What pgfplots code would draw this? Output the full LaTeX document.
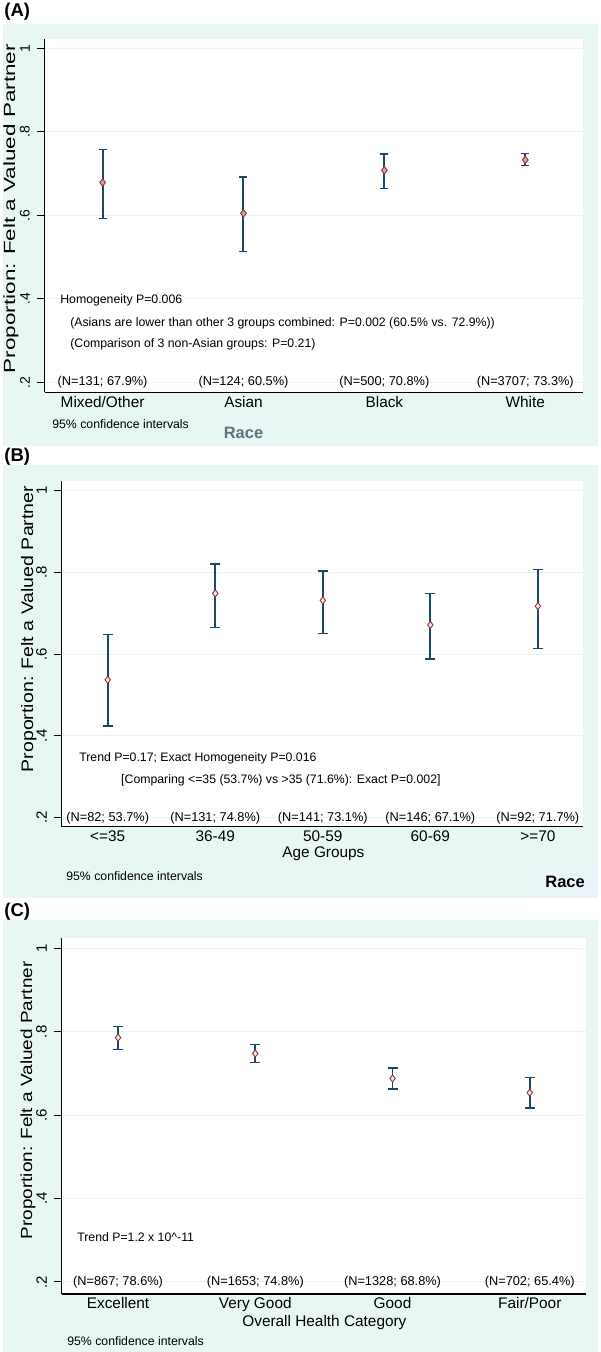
\documentclass[border=0pt]{standalone}
\usepackage{fontspec}
\setmainfont{Liberation Sans}
\usepackage{graphicx}
\usepackage{pgfplots}
\usepackage{pgfplotstable}
\pgfplotsset{compat=1.18}

\definecolor{mint}{RGB}{232,247,243}
\definecolor{gridc}{RGB}{232,244,241}
\definecolor{navy}{RGB}{26,71,111}
\definecolor{maroon}{RGB}{144,53,59}
\definecolor{racegray}{RGB}{100,112,122}
\definecolor{racebox}{RGB}{234,245,250}

\newcommand{\fs}[1]{\fontsize{#1}{#1}\selectfont}

% x, estimate, lower and upper 95% limits
\pgfplotstableread{
x y lo hi
1 0.679 0.593 0.758
2 0.605 0.513 0.692
3 0.708 0.665 0.747
4 0.733 0.719 0.748
}\raceTab

\pgfplotstableread{
x y lo hi
1 0.537 0.424 0.648
2 0.748 0.665 0.820
3 0.731 0.650 0.803
4 0.671 0.588 0.748
5 0.717 0.613 0.807
}\ageTab

\pgfplotstableread{
x y lo hi
1 0.786 0.758 0.812
2 0.748 0.727 0.769
3 0.688 0.663 0.713
4 0.654 0.617 0.690
}\healthTab

\pgfplotsset{
  stata/.style={
    scale only axis,
    axis x line*=bottom, axis y line*=left,
    axis line style={black, line width=1.2pt},
    axis background/.style={fill=white},
    ytick={0.2,0.4,0.6,0.8,1}, yticklabels={.2,.4,.6,.8,1},
    ymajorgrids, grid style={gridc, line width=1pt},
    tick align=outside, major tick length=8pt,
    ytick style={black, line width=1pt},
    xtick style={draw=none},
    yticklabel style={rotate=90, anchor=south, inner ysep=6.8pt, font=\fs{15}},
    xticklabel style={yshift=8pt, font=\fs{15.4}},
    xtick=data,
    clip=false,
  },
  % bar width, cap half-width, marker size, marker fill
  ci/.style n args={4}{only marks, mark=diamond*, mark size=#3,
    mark options={draw=maroon, fill=#4, line width=0.9pt},
    error bars/.cd, y dir=both, y explicit,
    error bar style={navy, line width=#1},
    error mark options={navy, line width=1.3pt, mark size=#2, rotate=90}},
}

\newcommand{\ciplot}[2]{%
  \addplot[ci=#2] table[x=x, y=y,
    y error plus expr=\thisrow{hi}-\thisrow{y},
    y error minus expr=\thisrow{y}-\thisrow{lo}] {#1};}

\begin{document}
\begin{tikzpicture}
\fill[white] (0pt,0pt) rectangle (600pt,1352pt);
\fill[mint] (2pt,907pt) rectangle (598pt,1330pt);
\fill[mint] (2pt,455pt) rectangle (598pt,888pt);
\fill[mint] (2pt,0pt) rectangle (598pt,433pt);

% (A) race
\node[anchor=west, font=\bfseries\fs{18.5}] at (0pt,1342pt) {(A)};
\begin{axis}[stata, at={(44pt,961pt)}, anchor=south west,
  width=539pt, height=354pt,
  xmin=0.59, xmax=4.41, ymin=0.176, ymax=1.023,
  yticklabel style={font=\fs{14}},
  xticklabels={Mixed/Other,Asian,Black,White}]
  \ciplot{\raceTab}{{2pt}{4pt}{3.8pt}{maroon!45}}
  \node[font=\fs{12.8}] at (axis cs:1,0.2) {(N=131; 67.9\%)};
  \node[font=\fs{12.8}] at (axis cs:2,0.2) {(N=124; 60.5\%)};
  \node[font=\fs{12.8}] at (axis cs:3,0.2) {(N=500; 70.8\%)};
  \node[font=\fs{12.8}] at (axis cs:4,0.2) {(N=3707; 73.3\%)};
\end{axis}
\node[rotate=90, font=\fs{22.5}] at (10pt,1145pt) {\scalebox{1}[0.72]{Proportion: Felt a Valued Partner}};
\node[anchor=west, font=\fs{12.3}] at (56pt,1053pt) {Homogeneity P=0.006};
\node[anchor=west, font=\fs{12.3}] at (66pt,1030pt) {(Asians are lower than other 3 groups combined: P=0.002 (60.5\% vs. 72.9\%))};
\node[anchor=west, font=\fs{12.3}] at (66pt,1009pt) {(Comparison of 3 non-Asian groups: P=0.21)};
\node[anchor=west, font=\fs{12.3}] at (48pt,929pt) {95\% confidence intervals};
\node[font=\bfseries\fs{16.5}, text=racegray] at (243pt,920pt) {Race};

% (B) age groups
\node[anchor=west, font=\bfseries\fs{18.5}] at (0pt,897pt) {(B)};
\fill[racebox] (533pt,455pt) rectangle (598pt,484pt);
\begin{axis}[stata, at={(61pt,526pt)}, anchor=south west,
  width=522pt, height=346pt,
  xmin=0.573, xmax=5.42, ymin=0.178, ymax=1.022,
  xticklabels={<=35,36-49,50-59,60-69,>=70}]
  \ciplot{\ageTab}{{1.7pt}{5pt}{3.6pt}{maroon!12}}
  \node[font=\fs{12.8}] at (axis cs:1,0.2) {(N=82; 53.7\%)};
  \node[font=\fs{12.8}] at (axis cs:2,0.2) {(N=131; 74.8\%)};
  \node[font=\fs{12.8}] at (axis cs:3,0.2) {(N=141; 73.1\%)};
  \node[font=\fs{12.8}] at (axis cs:4,0.2) {(N=146; 67.1\%)};
  \node[font=\fs{12.8}] at (axis cs:5,0.2) {(N=92; 71.7\%)};
\end{axis}
\node[rotate=90, font=\fs{19.6}] at (28pt,724pt) {\scalebox{1}[0.85]{Proportion: Felt a Valued Partner}};
\node[anchor=west, font=\fs{12.3}] at (75pt,595pt) {Trend P=0.17; Exact Homogeneity P=0.016};
\node[anchor=west, font=\fs{12.3}] at (117pt,572pt) {[Comparing <=35 (53.7\%) vs >35 (71.6\%): Exact P=0.002]};
\node[font=\fs{15.4}] at (323pt,499pt) {Age Groups};
\node[anchor=west, font=\fs{12.3}] at (62pt,477pt) {95\% confidence intervals};
\node[font=\bfseries\fs{16.5}] at (565pt,471pt) {Race};

% (C) overall health
\node[anchor=west, font=\bfseries\fs{18.5}] at (0pt,441pt) {(C)};
\begin{axis}[stata, at={(61pt,58pt)}, anchor=south west,
  width=525pt, height=357pt,
  xmin=0.59, xmax=4.41, ymin=0.171, ymax=1.026,
  xticklabels={Excellent,Very Good,Good,Fair/Poor}]
  \ciplot{\healthTab}{{1.7pt}{5pt}{3.6pt}{maroon!12}}
  \node[font=\fs{12.8}] at (axis cs:1,0.2) {(N=867; 78.6\%)};
  \node[font=\fs{12.8}] at (axis cs:2,0.2) {(N=1653; 74.8\%)};
  \node[font=\fs{12.8}] at (axis cs:3,0.2) {(N=1328; 68.8\%)};
  \node[font=\fs{12.8}] at (axis cs:4,0.2) {(N=702; 65.4\%)};
\end{axis}
\node[rotate=90, font=\fs{19}] at (27pt,252pt) {\scalebox{1}[0.85]{Proportion: Felt a Valued Partner}};
\node[anchor=west, font=\fs{12.3}] at (73pt,115pt) {Trend P=1.2 x 10\textasciicircum-11};
\node[font=\fs{15.4}] at (324pt,30pt) {Overall Health Category};
\node[anchor=west, font=\fs{12.3}] at (63pt,11pt) {95\% confidence intervals};
\end{tikzpicture}
\end{document}
